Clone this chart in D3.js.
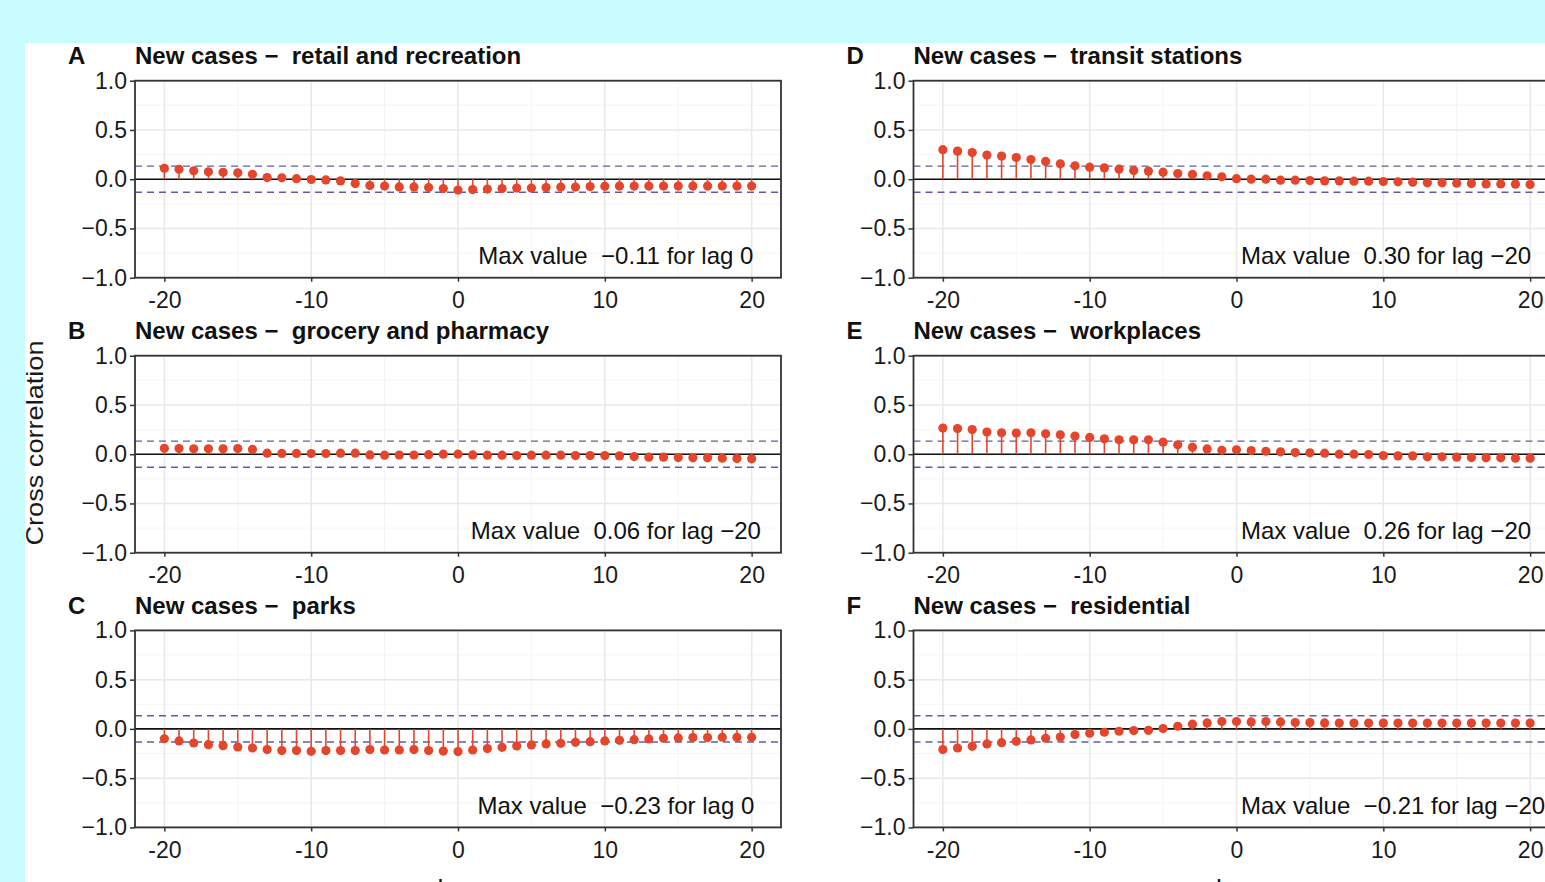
<!DOCTYPE html>
<html>
<head>
<meta charset="utf-8">
<script src="https://cdn.jsdelivr.net/npm/d3@7"></script>
<style>
  html, body { margin: 0; padding: 0; background: #c8fcfe; overflow: hidden; }
  svg { display: block; }
  text { white-space: pre; }
</style>
</head>
<body>
<div id="chart"></div>
<script>
// lags shown on every panel
const lags = d3.range(-20, 21);

const panelLetters = ['A', 'B', 'C', 'D', 'E', 'F'];
const mobilityTypes = [
  'retail and recreation',
  'grocery and pharmacy',
  'parks',
  'transit stations',
  'workplaces',
  'residential'
];

// cross correlation values, lag -20 .. 20
const retail = [
  0.11, 0.10, 0.085, 0.075, 0.07, 0.065, 0.05, 0.017, 0.014, 0.005,
  -0.003, -0.007, -0.017, -0.044, -0.065, -0.07, -0.078, -0.078, -0.085, -0.095,
  -0.11,
  -0.105, -0.10, -0.095, -0.09, -0.09, -0.085, -0.08, -0.08, -0.075, -0.072,
  -0.07, -0.07, -0.07, -0.07, -0.07, -0.07, -0.07, -0.07, -0.07, -0.07
];
const grocery = [
  0.06, 0.058, 0.055, 0.055, 0.055, 0.058, 0.048, 0.01, 0.008, 0.008,
  0.007, 0.007, 0.01, 0.01, -0.007, -0.01, -0.008, -0.008, -0.005, 0.0,
  0.0,
  -0.007, -0.01, -0.01, -0.014, -0.01, -0.01, -0.01, -0.014, -0.014, -0.014,
  -0.017, -0.024, -0.03, -0.03, -0.034, -0.037, -0.037, -0.04, -0.044, -0.047
];
const parks = [
  -0.10, -0.122, -0.143, -0.16, -0.17, -0.184, -0.194, -0.21, -0.22, -0.22,
  -0.228, -0.22, -0.22, -0.22, -0.21, -0.214, -0.214, -0.21, -0.22, -0.225,
  -0.23,
  -0.214, -0.20, -0.187, -0.173, -0.163, -0.153, -0.146, -0.136, -0.13, -0.122,
  -0.116, -0.109, -0.102, -0.095, -0.092, -0.088, -0.088, -0.085, -0.085, -0.085
];
const transit = [
  0.30, 0.285, 0.27, 0.245, 0.235, 0.22, 0.20, 0.18, 0.156, 0.136,
  0.122, 0.115, 0.102, 0.088, 0.082, 0.071, 0.058, 0.048, 0.034, 0.024,
  0.005,
  0.0, 0.0, -0.01, -0.01, -0.014, -0.017, -0.017, -0.02, -0.02, -0.024,
  -0.027, -0.03, -0.037, -0.037, -0.04, -0.044, -0.048, -0.048, -0.05, -0.054
];
const workplaces = [
  0.265, 0.26, 0.25, 0.225, 0.218, 0.215, 0.218, 0.207, 0.197, 0.184,
  0.17, 0.156, 0.146, 0.146, 0.146, 0.122, 0.095, 0.071, 0.054, 0.04,
  0.044,
  0.037, 0.03, 0.024, 0.017, 0.014, 0.01, 0.0, 0.0, -0.003, -0.014,
  -0.017, -0.017, -0.027, -0.027, -0.03, -0.034, -0.037, -0.037, -0.04, -0.04
];
const residential = [
  -0.21, -0.194, -0.177, -0.153, -0.14, -0.126, -0.112, -0.095, -0.082, -0.058,
  -0.044, -0.034, -0.024, -0.017, -0.014, 0.003, 0.027, 0.048, 0.061, 0.075,
  0.075,
  0.071, 0.075, 0.071, 0.065, 0.065, 0.061, 0.06, 0.06, 0.06, 0.06,
  0.06, 0.06, 0.06, 0.06, 0.06, 0.06, 0.06, 0.06, 0.06, 0.06
];
const seriesValues = [retail, grocery, parks, transit, workplaces, residential];

const maxLabels = [
  'Max value  \u22120.11 for lag 0',
  'Max value  0.06 for lag \u221220',
  'Max value  \u22120.23 for lag 0',
  'Max value  0.30 for lag \u221220',
  'Max value  0.26 for lag \u221220',
  'Max value  \u22120.21 for lag \u221220'
];

// approximate 95% band
const ciBound = 0.133;

const xTicks = [-20, -10, 0, 10, 20];
const xMinor = [-15, -5, 5, 15];
const yTicks = [-1, -0.5, 0, 0.5, 1];
const yMinor = [-0.75, -0.25, 0.25, 0.75];

// layout
const width = 1545;
const height = 882;
const colLeft = [135, 913.5];
const rowTop = [80.7, 355.7, 630.4];
const panelWidth = 646;
const panelHeight = 197;
const font = '"Liberation Sans", Arial, Helvetica, sans-serif';
const red = '#e5452b';
const dashBlue = '#5d5dac';

const svg = d3.select('#chart')
  .append('svg')
  .attr('width', width)
  .attr('height', height);

// cyan frame with white figure area
svg.append('rect')
  .attr('width', width).attr('height', height)
  .attr('fill', '#c8fcfe');
svg.append('rect')
  .attr('x', 25).attr('y', 43)
  .attr('width', width - 25).attr('height', height - 43)
  .attr('fill', '#ffffff');

const fmtY = d => d3.format('.1f')(d).replace('-', '\u2212');

seriesValues.forEach((values, i) => {
  const col = Math.floor(i / 3);
  const row = i % 3;
  const left = colLeft[col];
  const top = rowTop[row];

  const x = d3.scaleLinear().domain([-22, 22]).range([left, left + panelWidth]);
  const y = d3.scaleLinear().domain([-1, 1]).range([top + panelHeight, top]);

  const g = svg.append('g');

  // grid
  g.selectAll('.minor-x').data(xMinor).enter().append('line')
    .attr('x1', d => x(d)).attr('x2', d => x(d))
    .attr('y1', top).attr('y2', top + panelHeight)
    .attr('stroke', '#f3f3f3').attr('stroke-width', 0.8);
  g.selectAll('.minor-y').data(yMinor).enter().append('line')
    .attr('x1', left).attr('x2', left + panelWidth)
    .attr('y1', d => y(d)).attr('y2', d => y(d))
    .attr('stroke', '#f3f3f3').attr('stroke-width', 0.8);
  g.selectAll('.major-x').data(xTicks).enter().append('line')
    .attr('x1', d => x(d)).attr('x2', d => x(d))
    .attr('y1', top).attr('y2', top + panelHeight)
    .attr('stroke', '#e8e8e8').attr('stroke-width', 1.5);
  g.selectAll('.major-y').data(yTicks).enter().append('line')
    .attr('x1', left).attr('x2', left + panelWidth)
    .attr('y1', d => y(d)).attr('y2', d => y(d))
    .attr('stroke', '#e8e8e8').attr('stroke-width', 1.5);

  // confidence band
  [ciBound, -ciBound].forEach(b => {
    g.append('line')
      .attr('x1', left).attr('x2', left + panelWidth)
      .attr('y1', y(b)).attr('y2', y(b))
      .attr('stroke', dashBlue)
      .attr('stroke-width', 1.4)
      .attr('stroke-dasharray', '7,5');
  });

  // zero line
  g.append('line')
    .attr('x1', left).attr('x2', left + panelWidth)
    .attr('y1', y(0)).attr('y2', y(0))
    .attr('stroke', '#111').attr('stroke-width', 1.6);

  const pts = lags.map((lag, k) => ({ lag, value: values[k] }));

  // stems
  g.selectAll('.stem').data(pts).enter().append('line')
    .attr('x1', d => x(d.lag)).attr('x2', d => x(d.lag))
    .attr('y1', y(0)).attr('y2', d => y(d.value))
    .attr('stroke', red).attr('stroke-width', 1.6);

  // points
  g.selectAll('.dot').data(pts).enter().append('circle')
    .attr('cx', d => x(d.lag))
    .attr('cy', d => y(d.value))
    .attr('r', 4.6)
    .attr('fill', red);

  // annotation: centred in the left column, left-aligned in the right one
  const note = g.append('text')
    .attr('y', y(-0.865))
    .style('font-family', font)
    .style('font-size', '24px')
    .attr('fill', '#111')
    .text(maxLabels[i]);
  if (col === 0) {
    note.attr('x', x(10.75)).attr('text-anchor', 'middle');
  } else {
    note.attr('x', x(0.3)).attr('text-anchor', 'start');
  }

  // panel border
  g.append('rect')
    .attr('x', left).attr('y', top)
    .attr('width', panelWidth).attr('height', panelHeight)
    .attr('fill', 'none')
    .attr('stroke', '#333').attr('stroke-width', 1.8);

  // axes
  const yAxis = g.append('g')
    .attr('transform', `translate(${left},0)`)
    .call(d3.axisLeft(y).tickValues(yTicks).tickSize(5).tickPadding(3).tickFormat(fmtY));
  const xAxis = g.append('g')
    .attr('transform', `translate(0,${top + panelHeight})`)
    .call(d3.axisBottom(x).tickValues(xTicks).tickSize(4).tickPadding(10).tickFormat(d => String(d)));

  [yAxis, xAxis].forEach(ax => {
    ax.select('.domain').remove();
    ax.selectAll('.tick line').attr('stroke', '#333').attr('stroke-width', 1.5);
    ax.selectAll('.tick text')
      .attr('fill', '#1a1a1a')
      .style('font-family', font)
      .style('font-size', '23px');
  });

  // panel letter and title
  g.append('text')
    .attr('x', left - 67)
    .attr('y', top - 16.5)
    .style('font-family', font)
    .style('font-size', '24px')
    .style('font-weight', 'bold')
    .attr('fill', '#111')
    .text(panelLetters[i]);

  g.append('text')
    .attr('x', left)
    .attr('y', top - 16.5)
    .style('font-family', font)
    .style('font-size', '24px')
    .style('font-weight', 'bold')
    .attr('fill', '#111')
    .text('New cases \u2212  ' + mobilityTypes[i]);

  // x title under the bottom row (only its top edge shows, as in the original)
  if (row === 2) {
    g.append('text')
      .attr('x', left + panelWidth / 2)
      .attr('y', top + panelHeight + 70)
      .attr('text-anchor', 'middle')
      .style('font-family', font)
      .style('font-size', '25px')
      .attr('fill', '#111')
      .text('Lag');
  }
});

// shared y title
svg.append('text')
  .attr('transform', 'translate(43,443) rotate(-90)')
  .attr('text-anchor', 'middle')
  .attr('textLength', 205)
  .attr('lengthAdjust', 'spacingAndGlyphs')
  .style('font-family', font)
  .style('font-size', '24px')
  .attr('fill', '#1a1a1a')
  .text('Cross correlation');
</script>
</body>
</html>
